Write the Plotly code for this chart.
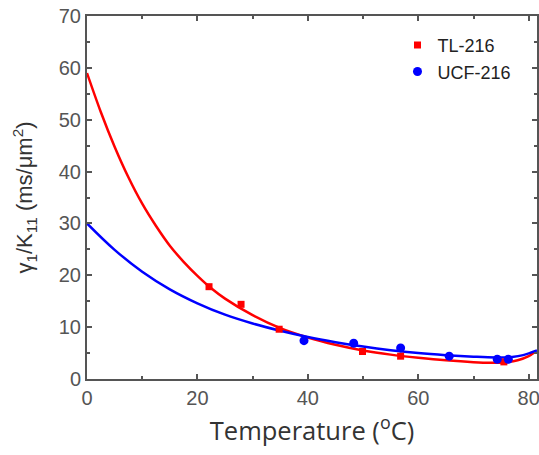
import plotly.graph_objects as go

# measured points
tl_T = [22.1, 27.9, 34.8, 49.9, 56.8, 75.5]
tl_v = [17.8, 14.4, 9.6, 5.3, 4.4, 3.3]
ucf_T = [39.3, 48.3, 56.8, 65.6, 74.3, 76.3]
ucf_v = [7.4, 6.9, 6.0, 4.4, 3.8, 3.8]

# fitted curves
tl_fit_T = [0, 2.5, 5, 7.5, 10, 12.5, 15, 17.5, 20, 22.5, 25, 30, 35, 40, 45, 50, 55, 60, 65, 70, 73, 76, 78, 80, 81]
tl_fit_v = [59, 51.5, 44.8, 38.9, 33.8, 29.5, 25.7, 22.6, 19.9, 17.5, 15.5, 12.3, 9.8, 8.0, 6.6, 5.5, 4.7, 4.1, 3.6, 3.25, 3.15, 3.25, 3.6, 4.4, 5.1]
ucf_fit_T = [0, 5, 10, 15, 20, 25, 30, 35, 40, 45, 50, 55, 60, 65, 70, 74, 77, 79, 81.5]
ucf_fit_v = [30, 24.9, 20.7, 17.3, 14.6, 12.4, 10.7, 9.3, 8.1, 7.1, 6.25, 5.55, 5.0, 4.6, 4.3, 4.15, 4.25, 4.6, 5.5]

fig = go.Figure()
fig.add_trace(go.Scatter(x=tl_fit_T, y=tl_fit_v, mode='lines', line=dict(color='#ff0000', width=2.5, shape='spline'),
                         showlegend=False, hoverinfo='none'))
fig.add_trace(go.Scatter(x=ucf_fit_T, y=ucf_fit_v, mode='lines', line=dict(color='#0000ff', width=2.5, shape='spline'),
                         showlegend=False, hoverinfo='none'))
fig.add_trace(go.Scatter(x=tl_T, y=tl_v, mode='markers', name='TL-216',
                         marker=dict(symbol='square', color='#ff0000', size=7)))
fig.add_trace(go.Scatter(x=ucf_T, y=ucf_v, mode='markers', name='UCF-216',
                         marker=dict(symbol='circle', color='#0000ff', size=9)))

axis_common = dict(showline=True, linecolor='#555555', linewidth=2, mirror='ticks',
                   ticks='inside', ticklen=5, tickwidth=1.5, tickcolor='#555555',
                   showgrid=False, zeroline=False, automargin=False, ticklabeloverflow='allow',
                   tickfont=dict(family='Liberation Sans, Arial', size=20, color='#555555'))

fig.update_xaxes(range=[0, 81.5], tickvals=[0, 20, 40, 60, 80],
                 minor=dict(tickvals=[10, 30, 50, 70], ticks='inside', ticklen=3, tickcolor='#555555'),
                 title=dict(text='Temperature (<sup>o</sup>C)', standoff=14,
                            font=dict(family='Open Sans', size=25.5, color='#333333')),
                 **axis_common)
fig.update_yaxes(range=[0, 70], tickvals=[0, 10, 20, 30, 40, 50, 60, 70],
                 minor=dict(tickvals=[5, 15, 25, 35, 45, 55, 65], ticks='inside', ticklen=3, tickcolor='#555555'),
                 title=dict(text='γ<sub>1</sub>/K<sub>11</sub> (ms/μm<sup>2</sup>)', standoff=20,
                            font=dict(family='Liberation Sans, Arial', size=22, color='#333333')),
                 **axis_common)

fig.update_layout(width=539, height=455, margin=dict(l=87, r=2, t=16, b=76),
                  plot_bgcolor='white', paper_bgcolor='white',
                  legend=dict(x=0.69, y=0.97, xanchor='left', yanchor='top', bgcolor='rgba(0,0,0,0)',
                              font=dict(family='Liberation Sans, Arial', size=18, color='#222222'),
                              itemwidth=30, tracegroupgap=0))

# drop the default page margin so the figure sits at the window's corner
fig.write_html("out.html", config={'displayModeBar': False},
               post_script="document.body.style.margin='0';")
